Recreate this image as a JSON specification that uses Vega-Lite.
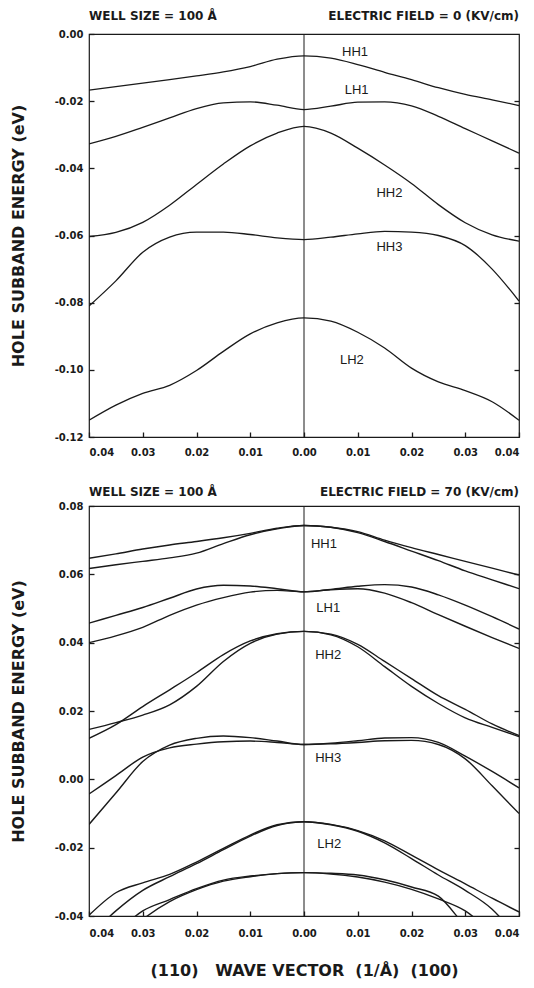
{
  "$schema": "https://vega.github.io/schema/vega-lite/v6.json",
  "background": "white",
  "padding": {"left": 9, "top": 9, "right": 0, "bottom": 5},
  "spacing": 27,
  "config": {
    "view": {"stroke": "#1a1a1a", "strokeWidth": 1.2},
    "font": "DejaVu Sans",
    "axis": {
      "labelFont": "DejaVu Sans", "labelFontWeight": "bold", "labelFontSize": 10, "labelColor": "#1a1a1a",
      "titleFont": "DejaVu Sans", "titleFontWeight": "bold", "titleColor": "#1a1a1a",
      "grid": false, "domain": false, "ticks": true, "tickSize": -5, "tickColor": "#1a1a1a", "tickWidth": 1.3
    }
  },
  "datasets": {
    "top": [
      {"b":"HH1","k":-0.04,"E":-0.0167},{"b":"HH1","k":-0.035,"E":-0.0157},{"b":"HH1","k":-0.03,"E":-0.0146},{"b":"HH1","k":-0.025,"E":-0.0136},{"b":"HH1","k":-0.02,"E":-0.0125},{"b":"HH1","k":-0.015,"E":-0.0113},{"b":"HH1","k":-0.01,"E":-0.0097},{"b":"HH1","k":-0.005,"E":-0.0075},{"b":"HH1","k":0,"E":-0.0065},{"b":"HH1","k":0.005,"E":-0.0072},{"b":"HH1","k":0.01,"E":-0.0091},{"b":"HH1","k":0.015,"E":-0.0114},{"b":"HH1","k":0.02,"E":-0.0136},{"b":"HH1","k":0.025,"E":-0.016},{"b":"HH1","k":0.03,"E":-0.018},{"b":"HH1","k":0.035,"E":-0.0196},{"b":"HH1","k":0.04,"E":-0.0213},
      {"b":"LH1","k":-0.04,"E":-0.0327},{"b":"LH1","k":-0.035,"E":-0.0305},{"b":"LH1","k":-0.03,"E":-0.0278},{"b":"LH1","k":-0.025,"E":-0.025},{"b":"LH1","k":-0.02,"E":-0.0222},{"b":"LH1","k":-0.015,"E":-0.0205},{"b":"LH1","k":-0.01,"E":-0.0202},{"b":"LH1","k":-0.005,"E":-0.0212},{"b":"LH1","k":0,"E":-0.0225},{"b":"LH1","k":0.005,"E":-0.0215},{"b":"LH1","k":0.01,"E":-0.0203},{"b":"LH1","k":0.015,"E":-0.0202},{"b":"LH1","k":0.02,"E":-0.0214},{"b":"LH1","k":0.025,"E":-0.0245},{"b":"LH1","k":0.03,"E":-0.0282},{"b":"LH1","k":0.035,"E":-0.0318},{"b":"LH1","k":0.04,"E":-0.0355},
      {"b":"HH2","k":-0.04,"E":-0.0603},{"b":"HH2","k":-0.035,"E":-0.0591},{"b":"HH2","k":-0.03,"E":-0.0561},{"b":"HH2","k":-0.025,"E":-0.051},{"b":"HH2","k":-0.02,"E":-0.0448},{"b":"HH2","k":-0.015,"E":-0.0387},{"b":"HH2","k":-0.01,"E":-0.0333},{"b":"HH2","k":-0.005,"E":-0.0295},{"b":"HH2","k":0,"E":-0.0275},{"b":"HH2","k":0.005,"E":-0.0295},{"b":"HH2","k":0.01,"E":-0.034},{"b":"HH2","k":0.015,"E":-0.039},{"b":"HH2","k":0.02,"E":-0.0445},{"b":"HH2","k":0.025,"E":-0.0508},{"b":"HH2","k":0.03,"E":-0.0562},{"b":"HH2","k":0.035,"E":-0.0598},{"b":"HH2","k":0.04,"E":-0.0617},
      {"b":"HH3","k":-0.04,"E":-0.081},{"b":"HH3","k":-0.035,"E":-0.0735},{"b":"HH3","k":-0.03,"E":-0.065},{"b":"HH3","k":-0.025,"E":-0.0605},{"b":"HH3","k":-0.02,"E":-0.059},{"b":"HH3","k":-0.015,"E":-0.059},{"b":"HH3","k":-0.01,"E":-0.0597},{"b":"HH3","k":-0.005,"E":-0.0607},{"b":"HH3","k":0,"E":-0.0612},{"b":"HH3","k":0.005,"E":-0.0605},{"b":"HH3","k":0.01,"E":-0.0595},{"b":"HH3","k":0.015,"E":-0.0588},{"b":"HH3","k":0.02,"E":-0.059},{"b":"HH3","k":0.025,"E":-0.06},{"b":"HH3","k":0.03,"E":-0.063},{"b":"HH3","k":0.035,"E":-0.07},{"b":"HH3","k":0.04,"E":-0.0795},
      {"b":"LH2","k":-0.04,"E":-0.115},{"b":"LH2","k":-0.035,"E":-0.1105},{"b":"LH2","k":-0.03,"E":-0.107},{"b":"LH2","k":-0.025,"E":-0.1046},{"b":"LH2","k":-0.02,"E":-0.1002},{"b":"LH2","k":-0.015,"E":-0.0945},{"b":"LH2","k":-0.01,"E":-0.0893},{"b":"LH2","k":-0.005,"E":-0.086},{"b":"LH2","k":0,"E":-0.0845},{"b":"LH2","k":0.005,"E":-0.0855},{"b":"LH2","k":0.01,"E":-0.0888},{"b":"LH2","k":0.015,"E":-0.0935},{"b":"LH2","k":0.02,"E":-0.0995},{"b":"LH2","k":0.025,"E":-0.1036},{"b":"LH2","k":0.03,"E":-0.1062},{"b":"LH2","k":0.035,"E":-0.1095},{"b":"LH2","k":0.04,"E":-0.115}
    ],
    "bottom": [
      {"b":"HH1a","k":-0.04,"E":0.0647},{"b":"HH1a","k":-0.035,"E":0.066},{"b":"HH1a","k":-0.03,"E":0.0674},{"b":"HH1a","k":-0.025,"E":0.0686},{"b":"HH1a","k":-0.02,"E":0.0696},{"b":"HH1a","k":-0.015,"E":0.0707},{"b":"HH1a","k":-0.01,"E":0.072},{"b":"HH1a","k":-0.005,"E":0.0735},{"b":"HH1a","k":0,"E":0.0743},{"b":"HH1a","k":0.005,"E":0.0738},{"b":"HH1a","k":0.01,"E":0.0725},{"b":"HH1a","k":0.015,"E":0.07},{"b":"HH1a","k":0.02,"E":0.0678},{"b":"HH1a","k":0.025,"E":0.0658},{"b":"HH1a","k":0.03,"E":0.0638},{"b":"HH1a","k":0.035,"E":0.0618},{"b":"HH1a","k":0.04,"E":0.0598},
      {"b":"HH1b","k":-0.04,"E":0.0617},{"b":"HH1b","k":-0.035,"E":0.0628},{"b":"HH1b","k":-0.03,"E":0.0638},{"b":"HH1b","k":-0.025,"E":0.0648},{"b":"HH1b","k":-0.02,"E":0.0662},{"b":"HH1b","k":-0.015,"E":0.069},{"b":"HH1b","k":-0.01,"E":0.0716},{"b":"HH1b","k":-0.005,"E":0.0733},{"b":"HH1b","k":0,"E":0.0743},{"b":"HH1b","k":0.005,"E":0.0738},{"b":"HH1b","k":0.01,"E":0.0722},{"b":"HH1b","k":0.015,"E":0.0696},{"b":"HH1b","k":0.02,"E":0.0668},{"b":"HH1b","k":0.025,"E":0.064},{"b":"HH1b","k":0.03,"E":0.061},{"b":"HH1b","k":0.035,"E":0.0584},{"b":"HH1b","k":0.04,"E":0.0558},
      {"b":"LH1a","k":-0.04,"E":0.0457},{"b":"LH1a","k":-0.035,"E":0.048},{"b":"LH1a","k":-0.03,"E":0.0503},{"b":"LH1a","k":-0.025,"E":0.053},{"b":"LH1a","k":-0.02,"E":0.0557},{"b":"LH1a","k":-0.015,"E":0.0568},{"b":"LH1a","k":-0.01,"E":0.0566},{"b":"LH1a","k":-0.005,"E":0.0558},{"b":"LH1a","k":0,"E":0.0549},{"b":"LH1a","k":0.005,"E":0.0556},{"b":"LH1a","k":0.01,"E":0.0565},{"b":"LH1a","k":0.015,"E":0.057},{"b":"LH1a","k":0.02,"E":0.0563},{"b":"LH1a","k":0.025,"E":0.054},{"b":"LH1a","k":0.03,"E":0.051},{"b":"LH1a","k":0.035,"E":0.0476},{"b":"LH1a","k":0.04,"E":0.044},
      {"b":"LH1b","k":-0.04,"E":0.04},{"b":"LH1b","k":-0.035,"E":0.042},{"b":"LH1b","k":-0.03,"E":0.0445},{"b":"LH1b","k":-0.025,"E":0.048},{"b":"LH1b","k":-0.02,"E":0.051},{"b":"LH1b","k":-0.015,"E":0.0532},{"b":"LH1b","k":-0.01,"E":0.0548},{"b":"LH1b","k":-0.005,"E":0.0553},{"b":"LH1b","k":0,"E":0.0549},{"b":"LH1b","k":0.005,"E":0.0555},{"b":"LH1b","k":0.01,"E":0.0558},{"b":"LH1b","k":0.015,"E":0.0545},{"b":"LH1b","k":0.02,"E":0.0517},{"b":"LH1b","k":0.025,"E":0.0482},{"b":"LH1b","k":0.03,"E":0.0448},{"b":"LH1b","k":0.035,"E":0.0415},{"b":"LH1b","k":0.04,"E":0.0383},
      {"b":"HH2a","k":-0.04,"E":0.012},{"b":"HH2a","k":-0.035,"E":0.016},{"b":"HH2a","k":-0.03,"E":0.0213},{"b":"HH2a","k":-0.025,"E":0.0262},{"b":"HH2a","k":-0.02,"E":0.0312},{"b":"HH2a","k":-0.015,"E":0.0365},{"b":"HH2a","k":-0.01,"E":0.0405},{"b":"HH2a","k":-0.005,"E":0.0426},{"b":"HH2a","k":0,"E":0.0433},{"b":"HH2a","k":0.005,"E":0.0425},{"b":"HH2a","k":0.01,"E":0.0395},{"b":"HH2a","k":0.015,"E":0.0345},{"b":"HH2a","k":0.02,"E":0.0295},{"b":"HH2a","k":0.025,"E":0.0245},{"b":"HH2a","k":0.03,"E":0.0205},{"b":"HH2a","k":0.035,"E":0.0162},{"b":"HH2a","k":0.04,"E":0.0128},
      {"b":"HH2b","k":-0.04,"E":0.0146},{"b":"HH2b","k":-0.035,"E":0.0166},{"b":"HH2b","k":-0.03,"E":0.0188},{"b":"HH2b","k":-0.025,"E":0.0218},{"b":"HH2b","k":-0.02,"E":0.0272},{"b":"HH2b","k":-0.015,"E":0.0345},{"b":"HH2b","k":-0.01,"E":0.0398},{"b":"HH2b","k":-0.005,"E":0.0425},{"b":"HH2b","k":0,"E":0.0433},{"b":"HH2b","k":0.005,"E":0.0423},{"b":"HH2b","k":0.01,"E":0.0388},{"b":"HH2b","k":0.015,"E":0.033},{"b":"HH2b","k":0.02,"E":0.0272},{"b":"HH2b","k":0.025,"E":0.0222},{"b":"HH2b","k":0.03,"E":0.018},{"b":"HH2b","k":0.035,"E":0.0152},{"b":"HH2b","k":0.04,"E":0.0125},
      {"b":"HH3a","k":-0.04,"E":-0.0043},{"b":"HH3a","k":-0.035,"E":0.0011},{"b":"HH3a","k":-0.03,"E":0.0065},{"b":"HH3a","k":-0.025,"E":0.0092},{"b":"HH3a","k":-0.02,"E":0.0103},{"b":"HH3a","k":-0.015,"E":0.011},{"b":"HH3a","k":-0.01,"E":0.0112},{"b":"HH3a","k":-0.005,"E":0.0108},{"b":"HH3a","k":0,"E":0.0102},{"b":"HH3a","k":0.005,"E":0.0106},{"b":"HH3a","k":0.01,"E":0.0113},{"b":"HH3a","k":0.015,"E":0.0121},{"b":"HH3a","k":0.02,"E":0.0122},{"b":"HH3a","k":0.025,"E":0.0108},{"b":"HH3a","k":0.03,"E":0.0068},{"b":"HH3a","k":0.035,"E":0.0023},{"b":"HH3a","k":0.04,"E":-0.0025},
      {"b":"HH3b","k":-0.04,"E":-0.0132},{"b":"HH3b","k":-0.035,"E":-0.004},{"b":"HH3b","k":-0.03,"E":0.0052},{"b":"HH3b","k":-0.025,"E":0.01},{"b":"HH3b","k":-0.02,"E":0.012},{"b":"HH3b","k":-0.015,"E":0.0127},{"b":"HH3b","k":-0.01,"E":0.0122},{"b":"HH3b","k":-0.005,"E":0.0112},{"b":"HH3b","k":0,"E":0.0102},{"b":"HH3b","k":0.005,"E":0.0104},{"b":"HH3b","k":0.01,"E":0.0108},{"b":"HH3b","k":0.015,"E":0.0113},{"b":"HH3b","k":0.02,"E":0.0114},{"b":"HH3b","k":0.025,"E":0.0102},{"b":"HH3b","k":0.03,"E":0.006},{"b":"HH3b","k":0.035,"E":-0.0019},{"b":"HH3b","k":0.04,"E":-0.01},
      {"b":"LH2a","k":-0.04,"E":-0.0398},{"b":"LH2a","k":-0.035,"E":-0.0332},{"b":"LH2a","k":-0.03,"E":-0.0303},{"b":"LH2a","k":-0.025,"E":-0.0278},{"b":"LH2a","k":-0.02,"E":-0.0242},{"b":"LH2a","k":-0.015,"E":-0.0202},{"b":"LH2a","k":-0.01,"E":-0.0163},{"b":"LH2a","k":-0.005,"E":-0.0133},{"b":"LH2a","k":0,"E":-0.0124},{"b":"LH2a","k":0.005,"E":-0.0132},{"b":"LH2a","k":0.01,"E":-0.015},{"b":"LH2a","k":0.015,"E":-0.018},{"b":"LH2a","k":0.02,"E":-0.0222},{"b":"LH2a","k":0.025,"E":-0.0265},{"b":"LH2a","k":0.03,"E":-0.0306},{"b":"LH2a","k":0.035,"E":-0.0348},{"b":"LH2a","k":0.04,"E":-0.0388},
      {"b":"LH2b","k":-0.04,"E":-0.046},{"b":"LH2b","k":-0.035,"E":-0.0385},{"b":"LH2b","k":-0.03,"E":-0.0325},{"b":"LH2b","k":-0.025,"E":-0.0285},{"b":"LH2b","k":-0.02,"E":-0.0247},{"b":"LH2b","k":-0.015,"E":-0.0206},{"b":"LH2b","k":-0.01,"E":-0.0166},{"b":"LH2b","k":-0.005,"E":-0.0135},{"b":"LH2b","k":0,"E":-0.0124},{"b":"LH2b","k":0.005,"E":-0.0133},{"b":"LH2b","k":0.01,"E":-0.0152},{"b":"LH2b","k":0.015,"E":-0.0186},{"b":"LH2b","k":0.02,"E":-0.0232},{"b":"LH2b","k":0.025,"E":-0.028},{"b":"LH2b","k":0.03,"E":-0.0325},{"b":"LH2b","k":0.035,"E":-0.038},{"b":"LH2b","k":0.04,"E":-0.047},
      {"b":"X1","k":-0.04,"E":-0.052},{"b":"X1","k":-0.035,"E":-0.045},{"b":"X1","k":-0.03,"E":-0.0385},{"b":"X1","k":-0.025,"E":-0.0352},{"b":"X1","k":-0.02,"E":-0.032},{"b":"X1","k":-0.015,"E":-0.0295},{"b":"X1","k":-0.01,"E":-0.0283},{"b":"X1","k":-0.005,"E":-0.0276},{"b":"X1","k":0,"E":-0.0273},{"b":"X1","k":0.005,"E":-0.0275},{"b":"X1","k":0.01,"E":-0.028},{"b":"X1","k":0.015,"E":-0.0294},{"b":"X1","k":0.02,"E":-0.0315},{"b":"X1","k":0.025,"E":-0.0342},{"b":"X1","k":0.03,"E":-0.043},{"b":"X1","k":0.035,"E":-0.051},{"b":"X1","k":0.04,"E":-0.059},
      {"b":"X2","k":-0.04,"E":-0.056},{"b":"X2","k":-0.035,"E":-0.048},{"b":"X2","k":-0.03,"E":-0.041},{"b":"X2","k":-0.025,"E":-0.0358},{"b":"X2","k":-0.02,"E":-0.0323},{"b":"X2","k":-0.015,"E":-0.0298},{"b":"X2","k":-0.01,"E":-0.0285},{"b":"X2","k":-0.005,"E":-0.0276},{"b":"X2","k":0,"E":-0.0273},{"b":"X2","k":0.005,"E":-0.0277},{"b":"X2","k":0.01,"E":-0.0286},{"b":"X2","k":0.015,"E":-0.0301},{"b":"X2","k":0.02,"E":-0.0322},{"b":"X2","k":0.025,"E":-0.035},{"b":"X2","k":0.03,"E":-0.0385},{"b":"X2","k":0.035,"E":-0.045},{"b":"X2","k":0.04,"E":-0.052}
    ],
    "topLabels": [
      {"label":"HH1","k":0.0095,"E":-0.0055},
      {"label":"LH1","k":0.0098,"E":-0.0168},
      {"label":"HH2","k":0.0159,"E":-0.0473},
      {"label":"HH3","k":0.0159,"E":-0.0633},
      {"label":"LH2","k":0.0089,"E":-0.097}
    ],
    "bottomLabels": [
      {"label":"HH1","k":0.0037,"E":0.0688},
      {"label":"LH1","k":0.0045,"E":0.0502},
      {"label":"HH2","k":0.0045,"E":0.0364},
      {"label":"HH3","k":0.0045,"E":0.0062},
      {"label":"LH2","k":0.0047,"E":-0.019}
    ]
  },
  "vconcat": [
    {
      "width": 430,
      "height": 403,
      "layer": [
        {
          "data": {"name": "top"},
          "mark": {"type": "line", "interpolate": "monotone", "clip": true, "color": "#1a1a1a", "strokeWidth": 1.3},
          "encoding": {
            "x": {"field": "k", "type": "quantitative",
                  "scale": {"domain": [-0.04, 0.04], "nice": false, "zero": false},
                  "axis": {"values": [-0.04,-0.03,-0.02,-0.01,0,0.01,0.02,0.03,0.04], "labelExpr": "format(abs(datum.value), '.2f')", "labelPadding": 15, "title": null}},
            "y": {"field": "E", "type": "quantitative",
                  "scale": {"domain": [-0.12, 0], "nice": false, "zero": false},
                  "axis": {"values": [-0.12,-0.1,-0.08,-0.06,-0.04,-0.02,0], "labelExpr": "replace(format(datum.value, '.2f'), '\u2212', '-')", "labelPadding": 11, "title": "HOLE SUBBAND ENERGY (eV)", "titleFontSize": 16, "titlePadding": 28}},
            "detail": {"field": "b"}
          }
        },
        {
          "data": {"values": [{}]},
          "mark": {"type": "rule", "color": "#1a1a1a", "strokeWidth": 1},
          "encoding": {"x": {"datum": 0, "type": "quantitative", "axis": null}}
        },
        {
          "data": {"name": "topLabels"},
          "mark": {"type": "text", "font": "Liberation Sans", "fontSize": 13, "color": "#1a1a1a"},
          "encoding": {
            "x": {"field": "k", "type": "quantitative", "axis": null},
            "y": {"field": "E", "type": "quantitative", "axis": {"orient": "right", "labels": false, "title": null, "values": [-0.1,-0.08,-0.06,-0.04,-0.02]}},
            "text": {"field": "label"}
          }
        },
        {
          "data": {"values": [{}]},
          "mark": {"type": "text", "align": "left", "baseline": "alphabetic", "dy": -14, "fontWeight": "bold", "fontSize": 12, "font": "DejaVu Sans", "color": "#1a1a1a"},
          "encoding": {"x": {"datum": -0.04, "type": "quantitative", "axis": null}, "y": {"datum": 0, "type": "quantitative", "axis": null}, "text": {"value": "WELL SIZE = 100 Å"}}
        },
        {
          "data": {"values": [{}]},
          "mark": {"type": "text", "align": "right", "baseline": "alphabetic", "dy": -14, "fontWeight": "bold", "fontSize": 12, "font": "DejaVu Sans", "color": "#1a1a1a"},
          "encoding": {"x": {"datum": 0.04, "type": "quantitative", "axis": null}, "y": {"datum": 0, "type": "quantitative", "axis": null}, "text": {"value": "ELECTRIC FIELD = 0 (KV/cm)"}}
        }
      ],
      "resolve": {"axis": {"x": "independent", "y": "independent"}}
    },
    {
      "width": 430,
      "height": 410,
      "layer": [
        {
          "data": {"name": "bottom"},
          "mark": {"type": "line", "interpolate": "monotone", "clip": true, "color": "#1a1a1a", "strokeWidth": 1.4},
          "encoding": {
            "x": {"field": "k", "type": "quantitative",
                  "scale": {"domain": [-0.04, 0.04], "nice": false, "zero": false},
                  "axis": {"values": [-0.04,-0.03,-0.02,-0.01,0,0.01,0.02,0.03,0.04], "labelExpr": "format(abs(datum.value), '.2f')", "labelPadding": 17, "title": "(110)\u00a0\u00a0\u00a0WAVE VECTOR\u00a0\u00a0(1/Å)\u00a0\u00a0(100)", "titleFontSize": 16, "titlePadding": 24}},
            "y": {"field": "E", "type": "quantitative",
                  "scale": {"domain": [-0.04, 0.08], "nice": false, "zero": false},
                  "axis": {"values": [-0.04,-0.02,0,0.02,0.04,0.06,0.08], "labelExpr": "replace(format(datum.value, '.2f'), '\u2212', '-')", "labelPadding": 11, "title": "HOLE SUBBAND ENERGY (eV)", "titleFontSize": 16, "titlePadding": 28}},
            "detail": {"field": "b"}
          }
        },
        {
          "data": {"values": [{}]},
          "mark": {"type": "rule", "color": "#1a1a1a", "strokeWidth": 1},
          "encoding": {"x": {"datum": 0, "type": "quantitative", "axis": null}}
        },
        {
          "data": {"name": "bottomLabels"},
          "mark": {"type": "text", "font": "Liberation Sans", "fontSize": 13, "color": "#1a1a1a"},
          "encoding": {
            "x": {"field": "k", "type": "quantitative", "axis": null},
            "y": {"field": "E", "type": "quantitative", "axis": {"orient": "right", "labels": false, "title": null, "values": [-0.02,0,0.02,0.04,0.06]}},
            "text": {"field": "label"}
          }
        },
        {
          "data": {"values": [{}]},
          "mark": {"type": "text", "align": "left", "baseline": "alphabetic", "dy": -10, "fontWeight": "bold", "fontSize": 12, "font": "DejaVu Sans", "color": "#1a1a1a"},
          "encoding": {"x": {"datum": -0.04, "type": "quantitative", "axis": null}, "y": {"datum": 0.08, "type": "quantitative", "axis": null}, "text": {"value": "WELL SIZE = 100 Å"}}
        },
        {
          "data": {"values": [{}]},
          "mark": {"type": "text", "align": "right", "baseline": "alphabetic", "dy": -10, "fontWeight": "bold", "fontSize": 12, "font": "DejaVu Sans", "color": "#1a1a1a"},
          "encoding": {"x": {"datum": 0.04, "type": "quantitative", "axis": null}, "y": {"datum": 0.08, "type": "quantitative", "axis": null}, "text": {"value": "ELECTRIC FIELD = 70 (KV/cm)"}}
        }
      ],
      "resolve": {"axis": {"x": "independent", "y": "independent"}}
    }
  ]
}
